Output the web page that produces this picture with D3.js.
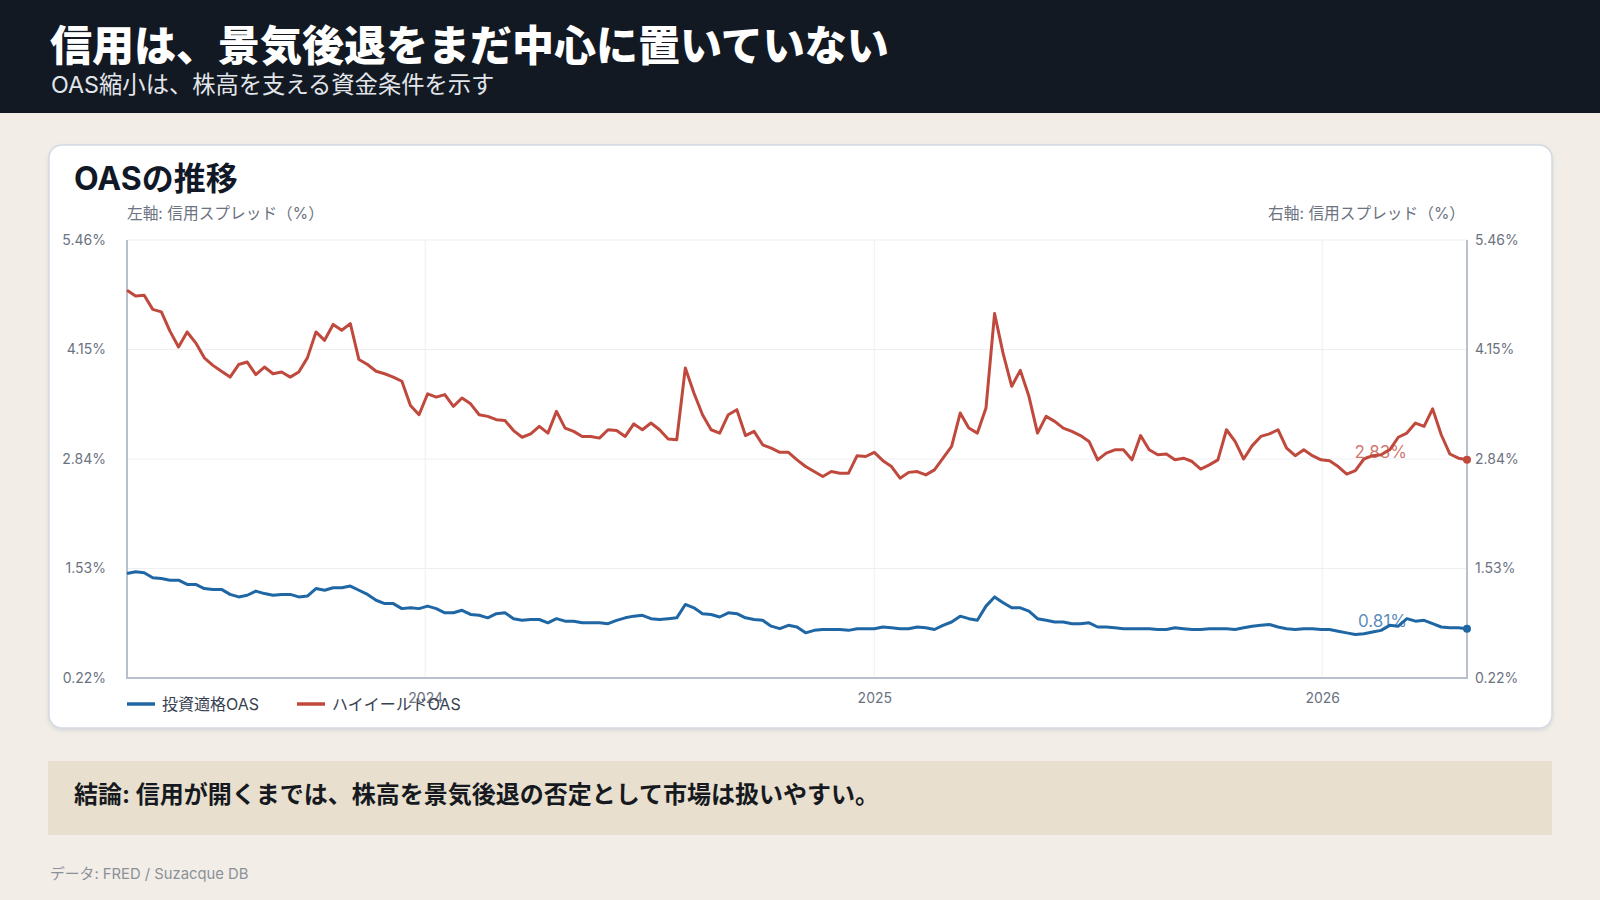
<!DOCTYPE html>
<html lang="ja">
<head>
<meta charset="utf-8">
<title>OASの推移</title>
<script src="https://cdn.jsdelivr.net/npm/d3@7"></script>
<style>
  html, body { margin: 0; padding: 0; background: #f2eee7; }
  svg { display: block; font-family: "Inter", "Noto Sans CJK JP", "Noto Sans", sans-serif; }
</style>
</head>
<body>
<div id="chart"></div>
<script>
// weekly readings, first week 2023-05-03
const startDate = '2023-05-03'
const stepDays = 7

// ハイイールドOAS (%)
const hyOas = [
  4.86, 4.79, 4.80, 4.63, 4.60, 4.37, 4.18, 4.36, 4.23, 4.05,
  3.96, 3.89, 3.82, 3.97, 4.00, 3.85, 3.94, 3.86, 3.88, 3.82,
  3.88, 4.05, 4.36, 4.26, 4.45, 4.38, 4.46, 4.03, 3.97, 3.89,
  3.86, 3.82, 3.77, 3.48, 3.37, 3.62, 3.58, 3.61, 3.47, 3.57,
  3.50, 3.37, 3.35, 3.31, 3.30, 3.18, 3.10, 3.14, 3.23, 3.15,
  3.41, 3.21, 3.17, 3.11, 3.11, 3.09, 3.19, 3.18, 3.11, 3.26,
  3.19, 3.27, 3.19, 3.08, 3.07, 3.93, 3.63, 3.37, 3.19, 3.15,
  3.37, 3.43, 3.12, 3.17, 3.01, 2.97, 2.92, 2.92, 2.83, 2.75,
  2.69, 2.63, 2.69, 2.67, 2.67, 2.88, 2.87, 2.92, 2.82, 2.75,
  2.61, 2.68, 2.69, 2.65, 2.71, 2.85, 2.99, 3.39, 3.21, 3.15,
  3.45, 4.58, 4.10, 3.71, 3.90, 3.59, 3.15, 3.35, 3.29, 3.21,
  3.17, 3.12, 3.05, 2.83, 2.91, 2.95, 2.95, 2.83, 3.12, 2.95,
  2.89, 2.90, 2.83, 2.85, 2.81, 2.72, 2.77, 2.83, 3.19, 3.05,
  2.84, 3.00, 3.11, 3.14, 3.19, 2.97, 2.88, 2.95, 2.88, 2.83,
  2.82, 2.75, 2.66, 2.70, 2.84, 2.88, 2.89, 2.95, 3.10, 3.15,
  3.27, 3.23, 3.44, 3.13, 2.90, 2.85, 2.83,
]

// 投資適格OAS (%)
const igOas = [
  1.47, 1.49, 1.48, 1.42, 1.41, 1.39, 1.39, 1.34, 1.34, 1.29,
  1.28, 1.28, 1.22, 1.19, 1.21, 1.26, 1.23, 1.21, 1.22, 1.22,
  1.19, 1.20, 1.29, 1.27, 1.30, 1.30, 1.32, 1.27, 1.22, 1.15,
  1.11, 1.11, 1.05, 1.06, 1.05, 1.08, 1.05, 1.00, 1.00, 1.03,
  0.98, 0.97, 0.94, 0.99, 1.00, 0.93, 0.91, 0.92, 0.92, 0.88,
  0.93, 0.90, 0.90, 0.88, 0.88, 0.88, 0.87, 0.91, 0.94, 0.96,
  0.97, 0.93, 0.92, 0.93, 0.94, 1.10, 1.06, 0.99, 0.98, 0.95,
  1.00, 0.99, 0.94, 0.92, 0.91, 0.84, 0.81, 0.85, 0.83, 0.76,
  0.79, 0.80, 0.80, 0.80, 0.79, 0.81, 0.81, 0.81, 0.83, 0.82,
  0.81, 0.81, 0.83, 0.82, 0.80, 0.85, 0.89, 0.96, 0.93, 0.91,
  1.08, 1.19, 1.12, 1.06, 1.06, 1.02, 0.93, 0.91, 0.89, 0.89,
  0.87, 0.87, 0.88, 0.83, 0.83, 0.82, 0.81, 0.81, 0.81, 0.81,
  0.80, 0.80, 0.82, 0.81, 0.80, 0.80, 0.81, 0.81, 0.81, 0.80,
  0.82, 0.84, 0.85, 0.86, 0.83, 0.81, 0.80, 0.81, 0.81, 0.80,
  0.80, 0.78, 0.76, 0.74, 0.75, 0.77, 0.79, 0.85, 0.84, 0.93,
  0.90, 0.91, 0.87, 0.83, 0.82, 0.82, 0.81,
]

const yTicks = [0.22, 1.53, 2.84, 4.15, 5.46]
const xTickYears = [2024, 2025, 2026]
const endLabels = ['2.83%', '0.81%']

const series = [
  {name: '投資適格OAS', values: igOas, color: '#1f66a5', label: endLabels[1]},
  {name: 'ハイイールドOAS', values: hyOas, color: '#c0493d', label: endLabels[0]},
]

const W = 1600, H = 900
const plot = {left: 127, right: 1467, top: 240, bottom: 678}

const svg = d3.select('#chart').append('svg')
  .attr('width', W)
  .attr('height', H)

svg.append('rect').attr('width', W).attr('height', H).attr('fill', '#f2eee7')

// header
svg.append('rect').attr('width', W).attr('height', 113).attr('fill', '#121922')
svg.append('text')
  .attr('x', 50).attr('y', 61)
  .attr('fill', '#ffffff')
  .attr('font-size', 42).attr('font-weight', 900)
  .text('信用は、景気後退をまだ中心に置いていない')
svg.append('text')
  .attr('x', 51).attr('y', 93)
  .attr('fill', '#e2e5ea')
  .attr('font-size', 23.3)
  .text('OAS縮小は、株高を支える資金条件を示す')

// card
const defs = svg.append('defs')
const shadow = defs.append('filter').attr('id', 'shadow')
  .attr('x', '-5%').attr('y', '-5%').attr('width', '110%').attr('height', '115%')
shadow.append('feDropShadow')
  .attr('dx', 0).attr('dy', 2).attr('stdDeviation', 2)
  .attr('flood-color', '#8a94a3').attr('flood-opacity', 0.25)

svg.append('rect')
  .attr('x', 49).attr('y', 145)
  .attr('width', 1503).attr('height', 583)
  .attr('rx', 13)
  .attr('fill', '#ffffff')
  .attr('stroke', '#d3dae3').attr('stroke-width', 1.5)
  .attr('filter', 'url(#shadow)')

svg.append('text')
  .attr('x', 74).attr('y', 190)
  .attr('fill', '#111827')
  .attr('font-size', 32).attr('font-weight', 700)
  .text('OASの推移')

svg.append('text')
  .attr('x', plot.left).attr('y', 219)
  .attr('fill', '#6b7280').attr('font-size', 15.7)
  .text('左軸: 信用スプレッド（%）')
svg.append('text')
  .attr('x', plot.right - 2).attr('y', 219)
  .attr('text-anchor', 'end')
  .attr('fill', '#6b7280').attr('font-size', 15.7)
  .text('右軸: 信用スプレッド（%）')

// scales
const parseDate = d3.utcParse('%Y-%m-%d')
const t0 = parseDate(startDate)
const dates = hyOas.map((v, i) => d3.utcDay.offset(t0, i * stepDays))

const x = d3.scaleUtc()
  .domain([t0, dates[dates.length - 1]])
  .range([plot.left, plot.right])
const y = d3.scaleLinear()
  .domain([yTicks[0], yTicks[yTicks.length - 1]])
  .range([plot.bottom, plot.top])

const yearDates = xTickYears.map((yr) => new Date(Date.UTC(yr, 0, 1)))

// grid
const grid = svg.append('g').attr('stroke', '#edeff2').attr('stroke-width', 1)
grid.selectAll('line.h')
  .data(yTicks)
  .enter().append('line')
    .attr('class', 'h')
    .attr('x1', plot.left).attr('x2', plot.right)
    .attr('y1', (d) => y(d)).attr('y2', (d) => y(d))
grid.selectAll('line.v')
  .data(yearDates)
  .enter().append('line')
    .attr('class', 'v')
    .attr('x1', (d) => x(d)).attr('x2', (d) => x(d))
    .attr('y1', plot.top).attr('y2', plot.bottom)

// axes
const fmt = (d) => d.toFixed(2) + '%'
const styleAxis = (g) => {
  g.select('.domain').remove()
  g.selectAll('.tick line').remove()
  g.selectAll('.tick text')
    .attr('fill', '#6b7280')
    .attr('font-size', 14)
    .attr('font-family', '"Inter", "Noto Sans CJK JP", sans-serif')
}

svg.append('g')
  .attr('transform', `translate(${plot.left},0)`)
  .call(d3.axisLeft(y).tickValues(yTicks).tickFormat(fmt).tickSize(0).tickPadding(21))
  .call(styleAxis)
svg.append('g')
  .attr('transform', `translate(${plot.right},0)`)
  .call(d3.axisRight(y).tickValues(yTicks).tickFormat(fmt).tickSize(0).tickPadding(8))
  .call(styleAxis)
svg.append('g')
  .attr('transform', `translate(0,${plot.bottom})`)
  .call(d3.axisBottom(x).tickValues(yearDates).tickFormat(d3.utcFormat('%Y')).tickSize(0).tickPadding(15))
  .call(styleAxis)

const frame = svg.append('g').attr('stroke', '#b7c0cc').attr('stroke-width', 2).attr('fill', 'none')
frame.append('line').attr('x1', plot.left).attr('x2', plot.left).attr('y1', plot.top).attr('y2', plot.bottom + 1)
frame.append('line').attr('x1', plot.right).attr('x2', plot.right).attr('y1', plot.top).attr('y2', plot.bottom + 1)
frame.append('line').attr('x1', plot.left - 1).attr('x2', plot.right + 1).attr('y1', plot.bottom).attr('y2', plot.bottom)

// end labels (under the lines)
const last = dates.length - 1
svg.selectAll('text.endlabel')
  .data(series)
  .enter().append('text')
    .attr('class', 'endlabel')
    .attr('x', x(dates[last]) - 60)
    .attr('y', (d) => y(d.values[last]) - 1.5)
    .attr('text-anchor', 'end')
    .attr('font-size', 17)
    .attr('fill', (d) => d.color)
    .attr('fill-opacity', 0.75)
    .text((d) => d.label)

// lines
const line = d3.line()
  .x((d, i) => x(dates[i]))
  .y((d) => y(d))

svg.selectAll('path.series')
  .data(series)
  .enter().append('path')
    .attr('class', 'series')
    .attr('d', (d) => line(d.values))
    .attr('fill', 'none')
    .attr('stroke', (d) => d.color)
    .attr('stroke-width', 3)
    .attr('stroke-linejoin', 'round')

svg.selectAll('circle.end')
  .data(series)
  .enter().append('circle')
    .attr('class', 'end')
    .attr('cx', x(dates[last]))
    .attr('cy', (d) => y(d.values[last]))
    .attr('r', 4)
    .attr('fill', (d) => d.color)

// legend
const legendX = [127, 297]
const legend = svg.selectAll('g.legend')
  .data(series)
  .enter().append('g')
    .attr('class', 'legend')
    .attr('transform', (d, i) => `translate(${legendX[i]},704)`)
legend.append('line')
  .attr('x1', 0).attr('x2', 28)
  .attr('stroke', (d) => d.color)
  .attr('stroke-width', 3.5)
legend.append('text')
  .attr('x', 35).attr('y', 5.5)
  .attr('font-size', 16)
  .attr('fill', '#374151')
  .text((d) => d.name)

// conclusion
svg.append('rect')
  .attr('x', 48).attr('y', 761)
  .attr('width', 1504).attr('height', 74)
  .attr('fill', '#e8dfcf')
svg.append('text')
  .attr('x', 74).attr('y', 803)
  .attr('fill', '#161a20')
  .attr('font-size', 24).attr('font-weight', 700)
  .text('結論: 信用が開くまでは、株高を景気後退の否定として市場は扱いやすい。')

svg.append('text')
  .attr('x', 50).attr('y', 879)
  .attr('fill', '#8b9099')
  .attr('font-size', 14.8)
  .text('データ: FRED / Suzacque DB')
</script>
</body>
</html>
